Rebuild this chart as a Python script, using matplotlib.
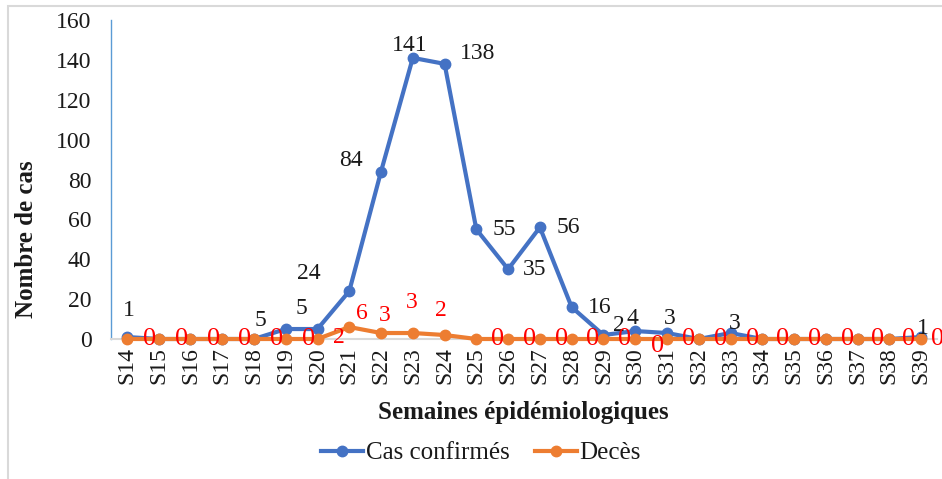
import matplotlib

matplotlib.use("Agg")
import matplotlib.pyplot as plt
from matplotlib.patches import Rectangle

plt.rcParams["font.family"] = ["Liberation Serif", "DejaVu Serif"]

# données
semaines = [f"S{n}" for n in range(14, 40)]
cas_confirmes = [1, 0, 0, 0, 0, 5, 5, 24, 84, 141, 138, 55, 35, 56, 16, 2, 4, 3, 0, 3, 0, 0, 0, 0, 0, 1]
deces = [0, 0, 0, 0, 0, 0, 0, 6, 3, 3, 2, 0, 0, 0, 0, 0, 0, 0, 0, 0, 0, 0, 0, 0, 0, 0]

# placement des étiquettes (semaine -> décalage en pixels)
cas_offsets = {
    "S14": (2, 27), "S19": (-25, 9), "S20": (-16, 21), "S21": (-40, 18), "S22": (-30, 11),
    "S23": (-3, 12), "S24": (33, 10), "S25": (28, 0), "S26": (27, 0), "S27": (28, 0),
    "S28": (28, 0), "S29": (15, 10), "S30": (-3, 13), "S31": (3, 15), "S33": (4, 10),
    "S39": (2, 9),
}
deces_offsets = {
    "S15": (-9, 0), "S16": (-9, 0), "S17": (-9, 0), "S18": (-9, 0), "S19": (-9, 0),
    "S20": (-9, 0), "S21": (13, 14), "S22": (4, 18), "S23": (-1, 31), "S24": (-4, 25),
    "S26": (-11, 0), "S27": (-10, 0), "S28": (-10, 0), "S29": (-11, 0), "S30": (-11, 0),
    "S31": (-9, -7), "S32": (-10, 0), "S33": (-10, 0), "S34": (-10, 0), "S35": (-11, 0),
    "S36": (-11, 0), "S37": (-10, 0), "S38": (-12, 0), "S39": (-13, 0),
}
# étiquettes parasites visibles sur le graphique d'origine
extra_labels = [("S21", "2", (-10, -10)), ("S39", "0", (16, 0))]

BLUE = "#4472C4"
ORANGE = "#ED7D31"

W, H = 942, 479
fig = plt.figure(figsize=(W / 100, H / 100), dpi=100)
ax = fig.add_axes([111 / W, 1 - 339 / H, (937 - 111) / W, (339 - 20) / H])

x = list(range(len(semaines)))
ax.plot(x, cas_confirmes, color=BLUE, lw=3, marker="o", ms=7.5, label="Cas confirmés", zorder=3)
ax.plot(x, deces, color=ORANGE, lw=3, marker="o", ms=7.5, label="Decès", zorder=4)

px = 72 / 100


def red_label(txt, xy, dx, dy):
    size = 19 if txt == "0" else 17
    ax.annotate(txt, xy, xytext=(dx * px, dy * px), textcoords="offset points",
                ha="center", va="center", fontsize=size, color="red", zorder=6)


for i, week in enumerate(semaines):
    if week in cas_offsets:
        dx, dy = cas_offsets[week]
        ax.annotate(str(cas_confirmes[i]), (i, cas_confirmes[i]), xytext=(dx * px, dy * px),
                    textcoords="offset points", ha="center", va="center", fontsize=17,
                    color="#1a1a1a", zorder=5)
    if week in deces_offsets:
        dx, dy = deces_offsets[week]
        red_label(str(deces[i]), (i, deces[i]), dx, dy)
for week, txt, (dx, dy) in extra_labels:
    i = semaines.index(week)
    red_label(txt, (i, deces[i]), dx, dy)

ax.set_xlim(-0.5, len(semaines) - 0.5)
ax.set_ylim(0, 160)
ax.set_yticks(range(0, 161, 20))
ax.set_xticks(x)
ax.set_xticklabels(semaines, rotation=90)
ax.tick_params(axis="both", length=0, labelsize=17, colors="#1a1a1a")
ax.tick_params(axis="y", pad=14)
ax.tick_params(axis="x", pad=6)

for side in ("top", "right"):
    ax.spines[side].set_visible(False)
ax.spines["left"].set_color("#5B9BD5")
ax.spines["left"].set_linewidth(1.0)
ax.spines["bottom"].set_color("#D9D9D9")
ax.spines["bottom"].set_linewidth(1.5)
for line in ax.lines:
    line.set_clip_on(False)

fig.text(27 / W, 1 - 239 / H, "Nombre de cas", rotation=90, ha="center", va="center",
         fontsize=18, fontweight="bold", color="#1a1a1a")
fig.text(523 / W, 1 - 412 / H, "Semaines épidémiologiques", ha="center", va="center",
         fontsize=18, fontweight="bold", color="#1a1a1a")

fig.legend(loc="center", bbox_to_anchor=(481 / W, 1 - 453 / H), ncol=2, frameon=False,
           fontsize=18, handlelength=1.7, handletextpad=0.1, columnspacing=1.0,
           labelcolor="#1a1a1a")

fig.patches.append(Rectangle((8 / W, -0.01), 1.0, 1 - 6 / H + 0.01, transform=fig.transFigure,
                             fill=False, edgecolor="#D9D9D9", lw=1.5))

fig.savefig("out.png", dpi=100)
